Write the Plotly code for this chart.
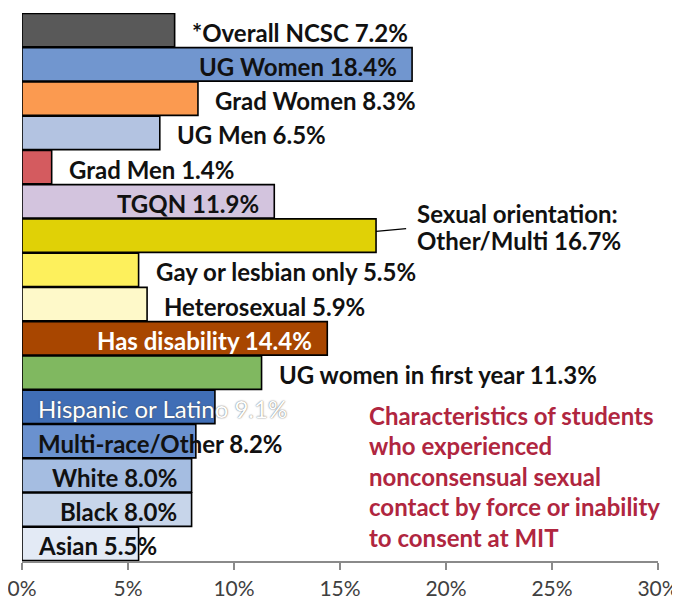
import plotly.graph_objects as go

categories = ["*Overall NCSC", "UG Women", "Grad Women", "UG Men", "Grad Men", "TGQN",
              "Sexual orientation: Other/Multi", "Gay or lesbian only", "Heterosexual",
              "Has disability", "UG women in first year", "Hispanic or Latino",
              "Multi-race/Other", "White", "Black", "Asian"]
values = [7.2, 18.4, 8.3, 6.5, 1.4, 11.9, 16.7, 5.5, 5.9, 14.4, 11.3, 9.1, 8.2, 8.0, 8.0, 5.5]
colors = ["#595959", "#7196cf", "#fb9a50", "#b3c3e1", "#d45b5f", "#d3c4de",
          "#e0d106", "#fdf05c", "#fef9c9", "#a84600", "#80b860", "#406eb6",
          "#6a91cf", "#a5bde1", "#c7d5ea", "#e3eaf5"]
label_texts = ["*Overall NCSC 7.2%", "UG Women 18.4%", "Grad Women 8.3%", "UG Men 6.5%",
               "Grad Men 1.4%", "TGQN 11.9%", "Sexual orientation:|Other/Multi 16.7%",
               "Gay or lesbian only 5.5%", "Heterosexual 5.9%", "Has disability 14.4%",
               "UG women in first year 11.3%", "Hispanic or Latino 9.1%",
               "Multi-race/Other 8.2%", "White 8.0%", "Black 8.0%", "Asian 5.5%"]
# label placement: "out" = after bar end, "in" = inside before bar end, "base" = from axis origin
label_modes = ["out", "in", "out", "out", "out", "in", "leader", "out", "out", "in", "out",
               "base", "base", "in", "in", "base"]
title_lines = ["Characteristics of students", "who experienced", "nonconsensual sexual",
               "contact by force or inability", "to consent at MIT"]
x_ticks = [0, 5, 10, 15, 20, 25, 30]
x_tick_labels = ["0%", "5%", "10%", "15%", "20%", "25%", "30%"]

FONT = "Lato"
FS = 24
fig = go.Figure(go.Bar(
    x=values, y=categories, orientation="h",
    marker=dict(color=colors, line=dict(color="#000000", width=1.6)),
    hoverinfo="skip",
))

annotations = []
shapes = []
for cat, val, txt, mode in zip(categories, values, label_texts, label_modes):
    font = dict(family=FONT, size=FS, color="#111111", weight="bold")
    if cat == "Has disability":
        font["color"] = "#ffffff"
    if mode == "out":
        annotations.append(dict(x=val, y=cat, text=txt, xanchor="left", xshift=15,
                                yshift=-2, showarrow=False, font=font))
    elif mode == "in":
        annotations.append(dict(x=val, y=cat, text=txt, xanchor="right", xshift=-13,
                                yshift=-2, showarrow=False, font=font))
    elif mode == "base":
        if cat == "Hispanic or Latino":
            font = dict(family=FONT, size=FS, color="#ffffff", weight="normal",
                        shadow="0px 0px 1.5px #444444")
        annotations.append(dict(x=0, y=cat, text=txt, xanchor="left", xshift=14,
                                yshift=-2, showarrow=False, font=font))
    elif mode == "leader":
        parts = txt.split("|")
        for j, part in enumerate(parts):
            annotations.append(dict(x=val, y=cat, text=part, xanchor="left", xshift=39,
                                    yshift=22 - 27 * j, showarrow=False, font=font))
        idx = categories.index(cat)
        shapes.append(dict(type="line", xref="x", yref="y", x0=val, x1=val + 1.42,
                           y0=idx - 0.126, y1=idx - 0.204,
                           line=dict(color="#000000", width=1.3)))

for i, line in enumerate(title_lines):
    annotations.append(dict(xref="paper", yref="paper", x=0.543, y=0.266 - i * 0.0558,
                            xanchor="left", yanchor="middle", text=line, showarrow=False,
                            font=dict(family=FONT, size=FS, color="#b0263f", weight="bold")))

# page body has an 8px default margin: size the figure so it fits the 680x602 window
fig.update_layout(
    width=672, height=594,
    margin=dict(l=14, r=22, t=5, b=41, autoexpand=False),
    paper_bgcolor="#ffffff", plot_bgcolor="#ffffff",
    bargap=0.02,
    showlegend=False,
    annotations=annotations,
    shapes=shapes,
    xaxis=dict(range=[0, 30], tickvals=x_ticks, ticktext=x_tick_labels, automargin=False,
               ticklabeloverflow="allow", ticklabelstandoff=1,
               showgrid=False, zeroline=False, showline=True, linecolor="#8a8a8a",
               linewidth=1.5, ticks="outside", ticklen=7, tickcolor="#8a8a8a", tickwidth=1.5,
               tickfont=dict(family=FONT, size=21, color="#404040"), fixedrange=True),
    yaxis=dict(autorange=False, range=[15.5, -0.5], showticklabels=False, showgrid=False,
               zeroline=False, showline=False, ticks="", fixedrange=True, automargin=False,
               categoryorder="array", categoryarray=categories),
)

fig.write_html("out.html")
